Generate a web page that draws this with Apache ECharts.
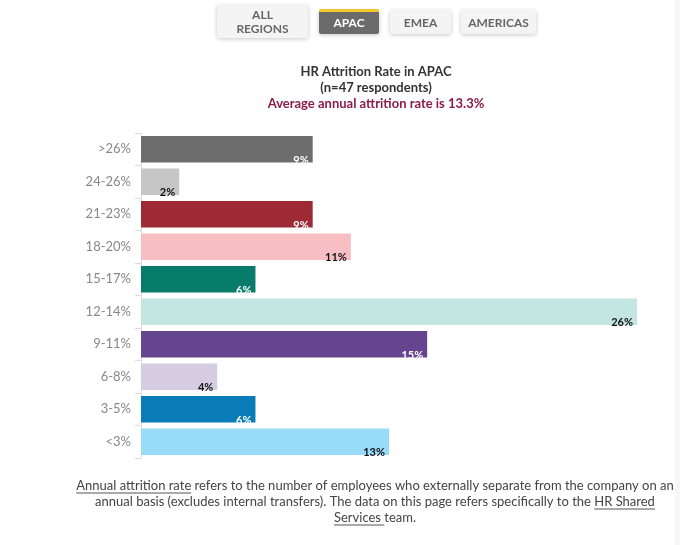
<!DOCTYPE html>
<html>
<head>
<meta charset="utf-8">
<script src="https://cdn.jsdelivr.net/npm/echarts@6/dist/echarts.min.js"></script>
<style>
html,body{margin:0;padding:0;background:#fff;}
#c{width:680px;height:545px;}
</style>
</head>
<body>
<div id="c"></div>
<script>
const categories = ['>26%', '24-26%', '21-23%', '18-20%', '15-17%', '12-14%', '9-11%', '6-8%', '3-5%', '<3%'];
const values = [9, 2, 9, 11, 6, 26, 15, 4, 6, 13];
const barColors = ['#6d6d6d', '#c6c6c6', '#9e2a35', '#f7bfc4', '#087c6a', '#c3e6e2', '#65458f', '#d6cde2', '#0a7db8', '#99dcf9'];
const labelColors = ['#ffffff', '#111111', '#ffffff', '#111111', '#ffffff', '#111111', '#ffffff', '#111111', '#ffffff', '#111111'];
const buttons = ['ALL\nREGIONS', 'APAC', 'EMEA', 'AMERICAS'];
const titleLines = ['HR Attrition Rate in APAC', '(n=47 respondents)', 'Average annual attrition rate is 13.3%'];
const noteLines = [
  'Annual attrition rate refers to the number of employees who externally separate from the company on an',
  'annual basis (excludes internal transfers). The data on this page refers specifically to the HR Shared',
  'Services team.'
];

const FONT = 'Lato, "Open Sans", sans-serif';
const noteFont = '13px ' + FONT;
const ctx = document.createElement('canvas').getContext('2d');
ctx.font = noteFont;
const W = s => ctx.measureText(s).width;

const chart = echarts.init(document.getElementById('c'));

const graphics = [];
// right edge strip
graphics.push({type:'rect', shape:{x:675, y:0, width:5, height:545}, style:{fill:'#f7f7f7'}, silent:true});

// buttons
const btnBoxes = [
  {x:217, y:5, w:91, h:33},
  {x:319, y:10, w:60, h:24},
  {x:390, y:10, w:61, h:24},
  {x:461, y:10, w:75, h:24}
];
buttons.forEach((b, i) => {
  const bx = btnBoxes[i];
  const active = i === 1;
  graphics.push({
    type:'rect', shape:{x:bx.x, y:bx.y, width:bx.w, height:bx.h, r:2},
    style:{fill: active ? '#6b6b6b' : '#f4f4f4', shadowBlur:4, shadowColor:'rgba(0,0,0,0.22)', shadowOffsetY:1}
  });
  if (active) {
    graphics.push({type:'rect', shape:{x:bx.x, y:bx.y - 1, width:bx.w, height:3, r:[2,2,0,0]}, style:{fill:'#f2c82f'}});
  }
  graphics.push({
    type:'text', x: bx.x + bx.w / 2, y: bx.y + bx.h / 2 + 1,
    style:{text:b, fill: active ? '#ffffff' : '#666666', font:'bold 12px ' + FONT, align:'center', verticalAlign:'middle', lineHeight:14}
  });
});

// title
const titleY = [72, 88, 104];
titleLines.forEach((t, i) => {
  graphics.push({
    type:'text', x:376, y:titleY[i],
    style:{text:t, fill: i === 2 ? '#8c1c49' : '#333333', font:'bold 13px ' + FONT, align:'center', verticalAlign:'middle'}
  });
});

// footnote
const noteCx = 375;
const noteY = [486, 502, 518];
noteLines.forEach((t, i) => {
  graphics.push({
    type:'text', x:noteCx, y:noteY[i],
    style:{text:t, fill:'#444444', font:noteFont, align:'center', verticalAlign:'middle'}
  });
});
function underline(lineIdx, startStr, subStr) {
  const line = noteLines[lineIdx];
  const left = noteCx - W(line) / 2;
  const x1 = left + W(startStr);
  const x2 = x1 + W(subStr);
  const y = noteY[lineIdx] + 7;
  graphics.push({type:'line', shape:{x1:x1, y1:y, x2:x2, y2:y}, style:{stroke:'#555', lineWidth:1}});
}
underline(0, '', 'Annual attrition rate');
const l2 = noteLines[1];
underline(1, l2.slice(0, l2.indexOf('HR Shared')), 'HR Shared');
underline(2, '', 'Services ');

chart.setOption({
  animation:false,
  grid:{left:141, right:43, top:133, bottom:87, containLabel:false},
  xAxis:{type:'value', min:0, max:26, show:false},
  yAxis:{
    type:'category', data:categories, inverse:true,
    axisLine:{show:true, lineStyle:{color:'#dddddd', width:1}},
    axisTick:{show:true, length:6, lineStyle:{color:'#dddddd'}},
    axisLabel:{color:'#888888', fontSize:13, fontFamily:FONT, margin:10}
  },
  series:[{
    type:'bar', barWidth:'81%',
    data: values.map((v, i) => ({
      value:v,
      itemStyle:{color:barColors[i]},
      label:{color:labelColors[i]}
    })),
    label:{
      show:true, position:['100%','100%'], align:'right', verticalAlign:'middle', offset:[-4,-2],
      formatter:p => p.value + '%', fontSize:11, fontWeight:'bold', fontFamily:FONT
    }
  }],
  graphic:graphics
});
</script>
</body>
</html>
